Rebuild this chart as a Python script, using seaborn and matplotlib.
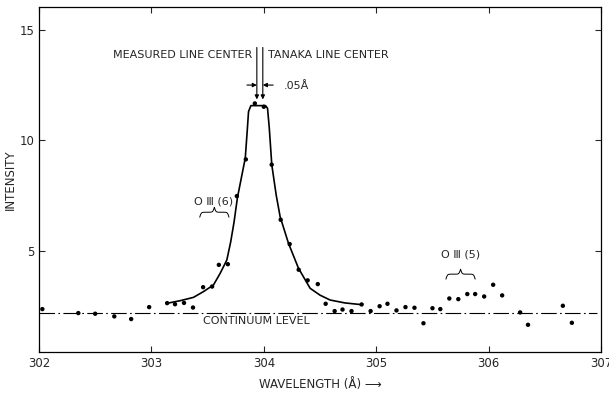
import numpy as np
import pandas as pd
import seaborn as sns
import matplotlib.pyplot as plt

# measured points (wavelength in A, intensity)
wl = [302.03, 302.35, 302.50, 302.67, 302.82, 302.98, 303.14, 303.21, 303.29, 303.37,
      303.46, 303.54, 303.60, 303.68, 303.76, 303.84, 303.92, 304.00, 304.07, 304.15,
      304.23, 304.31, 304.39, 304.48, 304.55, 304.63, 304.70, 304.78, 304.87, 304.95,
      305.03, 305.10, 305.18, 305.26, 305.34, 305.42, 305.50, 305.57, 305.65, 305.73,
      305.81, 305.88, 305.96, 306.04, 306.12, 306.28, 306.35, 306.66, 306.74]
inten = [2.37, 2.19, 2.16, 2.04, 1.92, 2.46, 2.64, 2.59, 2.65, 2.44,
         3.36, 3.39, 4.37, 4.40, 7.48, 9.14, 11.67, 11.52, 8.90, 6.41,
         5.31, 4.15, 3.67, 3.50, 2.61, 2.28, 2.35, 2.28, 2.58, 2.28,
         2.50, 2.61, 2.31, 2.46, 2.43, 1.73, 2.41, 2.37, 2.85, 2.82,
         3.05, 3.05, 2.94, 3.47, 2.99, 2.22, 1.66, 2.52, 1.75]

# hand drawn profile through the O III line
fit_wl = [303.137, 303.256, 303.374, 303.463, 303.552, 303.612, 303.671, 303.705, 303.735,
          303.765, 303.80, 303.835, 303.852, 303.864, 303.885, 304.015, 304.033, 304.048,
          304.071, 304.11, 304.145, 304.219, 304.308, 304.412, 304.50, 304.59, 304.72, 304.871]
fit_int = [2.63, 2.75, 2.90, 3.16, 3.46, 3.99, 4.59, 5.4, 6.3,
           7.4, 8.3, 9.2, 10.4, 11.3, 11.57, 11.57, 11.45, 10.6,
           8.89, 7.53, 6.55, 5.35, 4.22, 3.31, 3.0, 2.78, 2.65, 2.57]

continuum = 2.21
cont_range = [302.0, 306.96]

pts = pd.DataFrame({"wl": wl, "inten": inten})
fit = pd.DataFrame({"wl": fit_wl, "inten": fit_int})

sns.set_style("ticks")
plt.rcParams['font.family'] = ['DejaVu Sans']

fig = plt.figure(figsize=(6.09, 4.0), dpi=100)
ax = fig.add_axes([0.064, 0.12, 0.923, 0.8625])

sns.lineplot(data=fit, x="wl", y="inten", sort=False, color="black", lw=1.2, ax=ax)
sns.scatterplot(data=pts, x="wl", y="inten", color="black", s=10, edgecolor="none", ax=ax, zorder=3)
ax.plot(cont_range, [continuum, continuum], color="black", lw=0.8,
        linestyle=(0, (14, 3, 1.5, 3)))


def brace(x0, x1, y, h):
    # small curly brace opening downward, tip up
    t = np.linspace(0, 1, 81)
    half = np.linspace(0, 0.5, 41)
    k = 40.0
    yh = 1 / (1 + np.exp(-k * half)) + 1 / (1 + np.exp(-k * (half - 0.5)))
    yy = np.concatenate([yh, yh[-2::-1]])
    yy = (yy - yy.min()) / (yy.max() - yy.min())
    ax.plot(x0 + t * (x1 - x0), y + (yy - 0.5) * h, color="black", lw=0.7)


brace(303.43, 303.69, 6.75, 0.45)
brace(305.62, 305.88, 3.95, 0.45)

fs = 8
ax.text(303.55, 7.25, "O Ⅲ (6)", ha="center", va="center", fontsize=fs)
ax.text(305.75, 4.85, "O Ⅲ (5)", ha="center", va="center", fontsize=fs)
ax.text(303.93, 1.83, "CONTINUUM LEVEL", ha="center", va="center", fontsize=fs)
ax.text(303.893, 13.87, "MEASURED LINE CENTER", ha="right", va="center", fontsize=fs)
ax.text(304.04, 13.87, "TANAKA LINE CENTER", ha="left", va="center", fontsize=fs)
ax.text(304.18, 12.45, ".05Å", ha="left", va="center", fontsize=fs)

arr = dict(arrowstyle="-|>", lw=0.8, color="black", mutation_scale=6, shrinkA=0, shrinkB=0)
ax.annotate("", xy=(303.938, 11.85), xytext=(303.938, 14.2), arrowprops=arr)
ax.annotate("", xy=(303.991, 11.85), xytext=(303.991, 14.2), arrowprops=arr)
ax.annotate("", xy=(303.938, 12.5), xytext=(303.85, 12.5), arrowprops=arr)
ax.annotate("", xy=(303.991, 12.5), xytext=(304.083, 12.5), arrowprops=arr)

ax.set_xlim(302, 307)
ax.set_ylim(0.43, 16.03)
ax.set_xticks([302, 303, 304, 305, 306, 307])
ax.set_yticks([5, 10, 15])
ax.tick_params(direction="in", length=4, width=0.8, labelsize=8.5, top=True, right=True)
for s in ax.spines.values():
    s.set_linewidth(0.9)
    s.set_color("black")
ax.set_xlabel("WAVELENGTH (Å) ⟶", fontsize=8.5, labelpad=6)
ax.set_ylabel("INTENSITY", fontsize=8.5)
ax.yaxis.set_label_coords(-0.04, 0.5)

fig.savefig("out.png", dpi=100)
